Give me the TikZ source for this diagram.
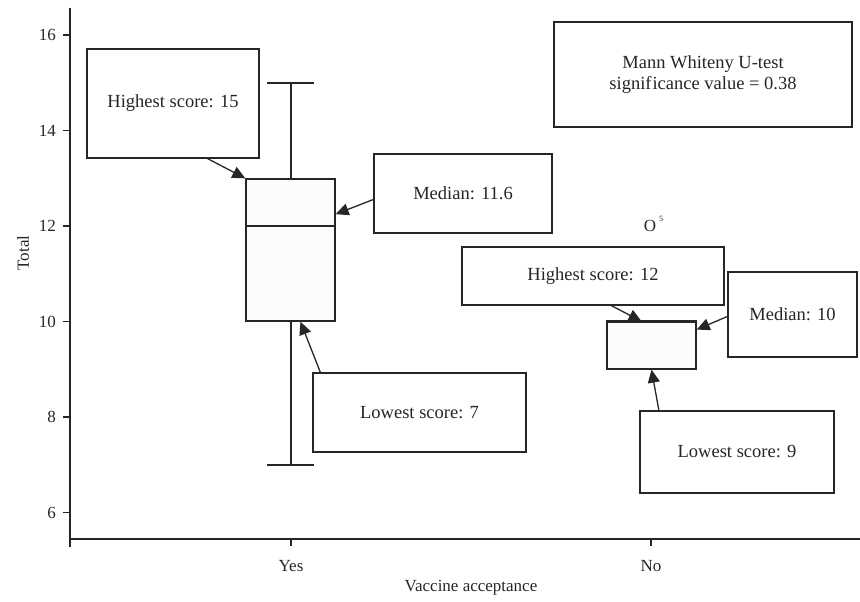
\documentclass[tikz,border=0pt]{standalone}
\usepackage{fontspec}
\setmainfont{Liberation Serif}
\usetikzlibrary{arrows.meta,calc}
\begin{document}
\begin{tikzpicture}[x=1pt,y=-1pt,
  ln/.style={line width=1.3pt,black!85},
  callout/.style={draw=black!85,line width=1.3pt,rectangle,fill=white,inner sep=0pt,
    font=\fontsize{18.5}{21}\selectfont,text=black!85,align=center},
  bx/.style={draw=black!85,line width=1.3pt,rectangle,fill=black!1,inner sep=0pt},
  axlab/.style={font=\fontsize{17}{19}\selectfont,text=black!85,inner sep=0pt},
  arr/.style={line width=1.3pt,black!85,-{Triangle[length=13pt,width=12pt]}}]
\useasboundingbox (0,0) rectangle (860,602);
% axes
\coordinate (ytop) at (70,8);
\coordinate (ybot) at (70,547);
\coordinate (xl) at (70,539);
\coordinate (xr) at (860,539);
\draw[ln] (ytop) -- (ybot);
\draw[ln] (xl) -- (xr);
\foreach \v in {6,8,...,16}{
  \coordinate (t\v) at (70,{35+(16-\v)*47.75});
  \draw[ln] (t\v) -- ++(-7,0);
  \node[axlab,anchor=east] (tl\v) at ($(t\v)+(-14,0)$) {\v};
}
\coordinate (xyes) at (291,539);
\coordinate (xno) at (651,539);
\draw[ln] (xyes) -- ++(0,7);
\draw[ln] (xno) -- ++(0,7);
\node[axlab] (lyes) at (291,566) {Yes};
\node[axlab] (lno) at (651,566) {No};
\node[axlab] (lvac) at (471,588) {Vaccine acceptance};
\node[axlab,rotate=90] (ltot) at (23,253) {Total};
% Yes boxplot
\coordinate (wtop) at (291,83);
\coordinate (wbot) at (291,465);
\draw[ln] (wtop) -- (291,179);
\draw[ln] (291,321) -- (wbot);
\draw[ln] (267,83) -- (314,83);
\draw[ln] (267,465) -- (314,465);
\node[bx,minimum width=89pt,minimum height=142pt] (ybox) at (290.5,250) {};
\draw[ln] (ybox.west |- 0,226) -- (ybox.east |- 0,226);
% No boxplot
\node[bx,minimum width=89pt,minimum height=47pt] (nbox) at (651.5,345.5) {};
\draw[line width=2.2pt,black!85] (nbox.north west) -- (nbox.north east);
\node[font=\fontsize{17}{19}\selectfont,text=black!85,inner sep=0pt] (out) at (650,226) {O};
\node[font=\fontsize{8}{9}\selectfont,text=black!85,inner sep=0pt] (outn) at (661,219) {5};
% callouts
\node[callout,minimum width=172pt,minimum height=109pt] (hi15) at (173,103.5) {Highest score: 15};
\node[callout,minimum width=178pt,minimum height=79pt] (med116) at (463,193.5) {Median: 11.6};
\node[callout,minimum width=213pt,minimum height=79pt] (lo7) at (419.5,412.5) {Lowest score: 7};
\node[callout,minimum width=298pt,minimum height=105pt] (mann) at (703,74.5) {Mann Whiteny U-test\\signif\kern1pt icance value = 0.38};
\node[callout,minimum width=262pt,minimum height=58pt] (hi12) at (593,276) {Highest score: 12};
\node[callout,minimum width=129pt,minimum height=85pt] (med10) at (792.5,314.5) {Median: 10};
\node[callout,minimum width=194pt,minimum height=82pt] (lo9) at (737,452) {Lowest score: 9};
% arrows
\draw[arr] ($(hi15.south west)!0.7!(hi15.south east)$) -- (ybox.north west);
\draw[arr] ($(med116.west)+(0,6)$) -- ($(ybox.north east)!0.25!(ybox.south east)$);
\draw[arr] ($(lo7.north west)+(8,0)$) -- ($(ybox.south west)!0.61!(ybox.south east)$);
\draw[arr] ($(hi12.south west)!0.57!(hi12.south east)$) -- ($(nbox.north west)!0.39!(nbox.north east)$);
\draw[arr] ($(med10.west)+(0,2)$) -- ($(nbox.north east)!0.17!(nbox.south east)$);
\draw[arr] ($(lo9.north west)!0.1!(lo9.north east)$) -- (nbox.south);
\end{tikzpicture}
\end{document}
